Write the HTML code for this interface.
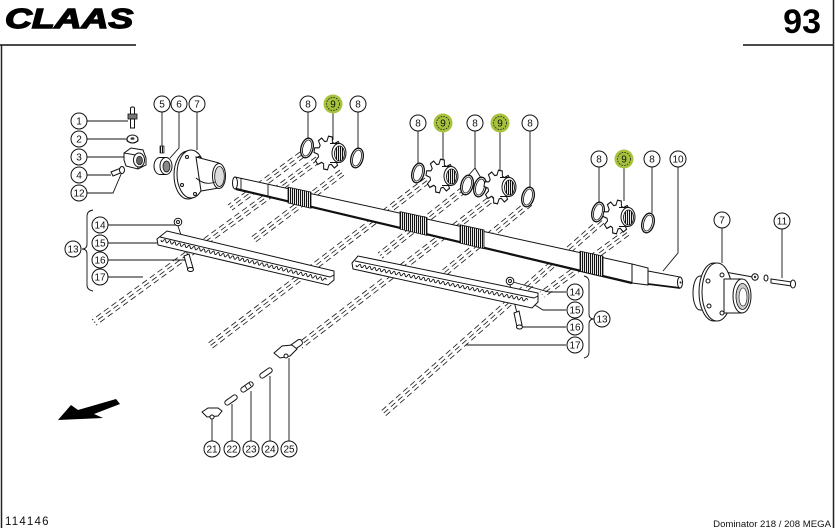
<!DOCTYPE html>
<html><head><meta charset="utf-8"><style>
html,body{margin:0;padding:0;background:#fff;width:835px;height:528px;overflow:hidden}
svg{display:block}
.d{stroke:#222;stroke-width:.85;stroke-dasharray:6 3.5;fill:none}
.o{stroke:#111;stroke-width:1;fill:#fff}
.l{stroke:#111;stroke-width:.9;fill:none}
.c{fill:#fff;stroke:#111;stroke-width:1}
.t{font-family:"Liberation Sans",sans-serif;font-size:10px;text-anchor:middle;fill:#111}
</style></head><body>
<svg width="835" height="528" viewBox="0 0 835 528" xmlns="http://www.w3.org/2000/svg">
<defs>
<pattern id="h" width="2" height="2" patternUnits="userSpaceOnUse"><rect width="2" height="2" fill="#fff"/><rect width="1.1" height="2" fill="#111"/></pattern>
<g id="spr">
 <polygon class="o" transform="scale(1,1.2) rotate(10)" points="9.61,-2.76 13.86,-1.95 13.86,1.95 9.61,2.76 8.75,4.85 11.18,8.43 8.43,11.18 4.85,8.75 2.76,9.61 1.95,13.86 -1.95,13.86 -2.76,9.61 -4.85,8.75 -8.43,11.18 -11.18,8.43 -8.75,4.85 -9.61,2.76 -13.86,1.95 -13.86,-1.95 -9.61,-2.76 -8.75,-4.85 -11.18,-8.43 -8.43,-11.18 -4.85,-8.75 -2.76,-9.61 -1.95,-13.86 1.95,-13.86 2.76,-9.61 4.85,-8.75 8.43,-11.18 11.18,-8.43 8.75,-4.85"/>
 <rect x="2" y="-9.5" width="9" height="19" fill="#fff"/>
 <path class="l" d="M2,-9.5 L11,-9.5 M2,9.5 L11,9.5"/>
 <ellipse cx="11" cy="0" rx="7" ry="9.5" class="o"/>
 <ellipse cx="11.5" cy="0.5" rx="5" ry="7.5" fill="url(#h)" stroke="#111" stroke-width=".8"/>
</g>
<g id="rg">
 <ellipse rx="6" ry="10" fill="#fff" stroke="#111" stroke-width="1.3"/>
 <ellipse rx="4.2" ry="8.2" fill="#fff" stroke="#111" stroke-width=".8"/>
</g>
</defs>

<!-- frame -->
<path d="M0,45 H136 M743,45 H833" stroke="#111" stroke-width="1.5"/>
<path d="M1.5,45 V528 M833.5,0 V528" stroke="#222" stroke-width="1.5"/>
<text transform="translate(5,28) scale(1.33,1)" font-family="Liberation Sans,sans-serif" font-weight="900" font-style="italic" font-size="28" fill="#000" stroke="#000" stroke-width="1.4">CLAAS</text>
<text x="821" y="33" text-anchor="end" font-family="Liberation Sans,sans-serif" font-weight="bold" font-size="34" fill="#000">93</text>
<text x="5" y="525" font-family="Liberation Sans,sans-serif" font-size="11.5" letter-spacing="1.2" fill="#111">114146</text>
<text x="831" y="527" text-anchor="end" font-family="Liberation Sans,sans-serif" font-size="9.6" fill="#111">Dominator 218 / 208 MEGA</text>

<!-- dashed bundles -->
<g id="dl" class="d">
<path d="M300,152 L228,205 M316,157 L92,320 M340,170 L250,238 M425,178 L207,344 M495,192 L298,343 M528,200 L440,272 M600,218 L380,412 M625,230 L540,292 M462,187 L378,253"/>
</g>
<use href="#dl" transform="translate(2,2.6)"/>
<use href="#dl" transform="translate(4,5.2)"/>

<!-- leader lines -->
<path class="l" d="M87,121 H128 M87,139 H127 M87,157 H125 M87,175 H111 M87,193 H113 L122,172
M162,112 V146 M179,112 V148 L170,158 M197,112 V150
M308,112 V140 M333,113 V140 M358,112 V148
M418,131 V164 M443,132 V166 M475,131 V168 L467,177 M475,168 L481,178 M500,132 V175 M530,131 V187
M599,167 V202 M624,168 V201 M652,167 V213 M678,167 V253 L663,271
M722,228 V263 M782,229 V278 M725,272 L753,277
M108,225 H176 M108,243 H157 M108,260 H186 M108,277 H143
M566,292 H549 L513,282 M566,310 H543 L535,305 M566,327 H522 M566,345 H466
M212,441 V419 M232,441 V404 M251,441 V391 M270,441 V376 M289,441 V358
M178,226 L188,256 M510,285 L517,313
M93,210 Q87,211 87,216 L87,244 Q87,249 82,249 Q87,249 87,254 L87,285 Q87,290 93,291
M584,276 Q589,277 589,282 L589,314 Q589,319 594,319 Q589,319 589,324 L589,352 Q589,357 584,358"/>

<!-- shaft -->
<polygon class="o" points="235,177 632,264 632,283 235,189"/>
<path d="M236,189 L632,283" stroke="#111" stroke-width="2.2" fill="none"/>
<ellipse cx="235" cy="183" rx="2.5" ry="6" class="o"/>
<path class="l" d="M241,178.3 L241,190.4 M268,184.2 L268,196.7"/>
<polygon class="o" points="632,264 648,268 648,285 632,283"/>
<polygon class="o" points="648,271 680,277 680,288 648,284"/>
<path d="M648,284 L680,288" stroke="#111" stroke-width="1.8"/>
<ellipse cx="680" cy="282.5" rx="2.5" ry="5.5" class="o"/>
<circle cx="680.5" cy="282.5" r="1" fill="#111"/>
<g fill="url(#h)" stroke="#111" stroke-width=".8">
<polygon points="288,187.1 311,192.1 311,208.3 288,202.9"/>
<polygon points="400,211.6 427,217.5 427,235.4 400,229.1"/>
<polygon points="460,224.8 484,230 484,248.8 460,243.1"/>
<polygon points="580,251.1 603,256.1 603,276.6 580,271.2"/>
</g>

<!-- strips -->
<path class="o" d="M157,239 L167,231 L334,271 L334,280 L328,285 L158,245 Z"/>
<path class="l" d="M160,237 L330,277 L334,275"/>
<path class="l" stroke-width=".8" d="M161,240 q0.51,3.2 2.43,0.585 t2.43,.585 t2.43,.585 t2.43,.585 t2.43,.585 t2.43,.585 t2.43,.585 t2.43,.585 t2.43,.585 t2.43,.585 t2.43,.585 t2.43,.585 t2.43,.585 t2.43,.585 t2.43,.585 t2.43,.585 t2.43,.585 t2.43,.585 t2.43,.585 t2.43,.585 t2.43,.585 t2.43,.585 t2.43,.585 t2.43,.585 t2.43,.585 t2.43,.585 t2.43,.585 t2.43,.585 t2.43,.585 t2.43,.585 t2.43,.585 t2.43,.585 t2.43,.585 t2.43,.585 t2.43,.585 t2.43,.585 t2.43,.585 t2.43,.585 t2.43,.585 t2.43,.585 t2.43,.585 t2.43,.585 t2.43,.585 t2.43,.585 t2.43,.585 t2.43,.585 t2.43,.585 t2.43,.585 t2.43,.585 t2.43,.585 t2.43,.585 t2.43,.585 t2.43,.585 t2.43,.585 t2.43,.585 t2.43,.585 t2.43,.585 t2.43,.585 t2.43,.585 t2.43,.585 t2.43,.585 t2.43,.585 t2.43,.585 t2.43,.585 t2.43,.585 t2.43,.585 t2.43,.585 t2.43,.585"/>
<path class="o" d="M352,263 L358,256 L538,293 L538,302 L532,308 L353,269 Z"/>
<path class="l" d="M355,261 L534,298 L538,296"/>
<path class="l" stroke-width=".8" d="M356,265 q0.62,3.19 2.45,0.503 t2.45,.503 t2.45,.503 t2.45,.503 t2.45,.503 t2.45,.503 t2.45,.503 t2.45,.503 t2.45,.503 t2.45,.503 t2.45,.503 t2.45,.503 t2.45,.503 t2.45,.503 t2.45,.503 t2.45,.503 t2.45,.503 t2.45,.503 t2.45,.503 t2.45,.503 t2.45,.503 t2.45,.503 t2.45,.503 t2.45,.503 t2.45,.503 t2.45,.503 t2.45,.503 t2.45,.503 t2.45,.503 t2.45,.503 t2.45,.503 t2.45,.503 t2.45,.503 t2.45,.503 t2.45,.503 t2.45,.503 t2.45,.503 t2.45,.503 t2.45,.503 t2.45,.503 t2.45,.503 t2.45,.503 t2.45,.503 t2.45,.503 t2.45,.503 t2.45,.503 t2.45,.503 t2.45,.503 t2.45,.503 t2.45,.503 t2.45,.503 t2.45,.503 t2.45,.503 t2.45,.503 t2.45,.503 t2.45,.503 t2.45,.503 t2.45,.503 t2.45,.503 t2.45,.503 t2.45,.503 t2.45,.503 t2.45,.503 t2.45,.503 t2.45,.503 t2.45,.503 t2.45,.503 t2.45,.503 t2.45,.503 t2.45,.503"/>

<!-- nuts & bolts on strips -->
<circle cx="178" cy="222" r="3.8" class="o"/><circle cx="178" cy="222" r="1.5" class="l"/>
<polygon class="o" points="184,256 189,254 193,268 188,270"/><ellipse cx="190.5" cy="269.5" rx="3" ry="2" class="o"/>
<circle cx="510" cy="281" r="3.8" class="o"/><circle cx="510" cy="281" r="1.5" class="l"/>
<polygon class="o" points="514,313 519,311 522,325 517,327"/><ellipse cx="519.5" cy="327" rx="3" ry="2" class="o"/>

<!-- parts 1-4,12 -->
<rect x="130.5" y="107" width="4" height="8" rx="1.5" class="o"/>
<rect x="128" y="114" width="9" height="5" fill="#777" stroke="#111" stroke-width=".8"/>
<rect x="130.5" y="119" width="4" height="9" class="o"/>
<ellipse cx="132.5" cy="139" rx="5.5" ry="4" class="o"/><path class="l" d="M127,139 v2 q5.5,4 11,0 v-2"/><ellipse cx="132.5" cy="138.5" rx="2" ry="1.3" fill="#333"/>
<polygon class="o" points="124,153 131,148 143,150 146,158 146,165 138,169 126,166 124,160"/>
<path class="l" d="M124,153 L136,155 L138,169"/>
<ellipse cx="139" cy="160" rx="5.5" ry="7" class="o"/><ellipse cx="139.5" cy="160.5" rx="3" ry="4.3" fill="#666" stroke="#111" stroke-width=".7"/>
<polygon class="o" points="111,172 121,168 123,172 113,176"/><ellipse cx="122" cy="170" rx="2.5" ry="3.5" class="o"/>
<rect x="160" y="146" width="4" height="7" fill="url(#h)" stroke="#111" stroke-width=".7"/>
<!-- part 6 -->
<ellipse cx="160" cy="166" rx="6" ry="8.5" class="o"/>
<rect x="160" y="157.5" width="6" height="17" fill="#fff"/>
<path class="l" d="M160,157.5 H166 M160,174.5 H166"/>
<ellipse cx="166" cy="166" rx="6" ry="8.5" class="o"/>
<ellipse cx="166.5" cy="166.5" rx="3.5" ry="5.5" fill="#888" stroke="#111" stroke-width=".8"/>
<!-- flange 7 left -->
<ellipse cx="188" cy="175" rx="14" ry="24" class="o"/>
<ellipse cx="191" cy="174" rx="14" ry="24" class="o"/>
<circle cx="187" cy="157" r="1.5" class="o"/><circle cx="182" cy="185" r="1.5" class="o"/><circle cx="195" cy="194" r="1.5" class="o"/><circle cx="199" cy="158" r="1.5" class="o"/>
<path class="o" d="M196,157 L219,163 L219,188 L201,191 Z"/>
<ellipse cx="219" cy="176" rx="6.5" ry="12.5" class="o"/>
<ellipse cx="219.5" cy="176.5" rx="4.8" ry="10" fill="#ddd" stroke="#111" stroke-width=".8"/>
<path class="l" d="M196,178 Q205,186 215,182"/>

<!-- sprockets and rings -->
<use href="#rg" transform="translate(307,148) rotate(15)"/>
<use href="#spr" x="328" y="153"/>
<use href="#rg" transform="translate(357,158) rotate(15)"/>
<use href="#rg" transform="translate(418,173) rotate(15)"/>
<use href="#spr" x="440" y="176"/>
<use href="#rg" transform="translate(467,185) rotate(15)"/>
<use href="#rg" transform="translate(480,187) rotate(15)"/>
<use href="#spr" x="498" y="187"/>
<use href="#rg" transform="translate(528,197) rotate(15)"/>
<use href="#rg" transform="translate(598,212) rotate(15)"/>
<use href="#spr" x="617" y="217"/>
<use href="#rg" transform="translate(648,223) rotate(15)"/>

<!-- hub 7 right -->
<ellipse cx="700" cy="293" rx="7" ry="17" class="o"/>
<rect x="700" y="276" width="14" height="34" fill="#fff"/>
<path class="l" d="M700,276 H714 M700,310 H714"/>
<ellipse cx="714" cy="292" rx="15" ry="29" class="o"/>
<ellipse cx="717" cy="292" rx="15" ry="29" class="o"/>
<circle cx="722" cy="275" r="2" class="o"/><circle cx="708" cy="281" r="2" class="o"/><circle cx="709" cy="306" r="2" class="o"/><circle cx="722" cy="313" r="2" class="o"/>
<path class="o" d="M724,279 L742,279 L742,313 L724,313 Z"/>
<ellipse cx="742" cy="296" rx="9" ry="17" class="o"/>
<ellipse cx="742.5" cy="296.5" rx="6.5" ry="13" fill="#ccc" stroke="#111" stroke-width=".8"/>
<ellipse cx="743" cy="297" rx="4" ry="9" fill="#fff" stroke="#111" stroke-width=".6"/>
<circle cx="755" cy="277" r="3.2" class="o"/><circle cx="755" cy="277" r="1.2" fill="#333"/>
<ellipse cx="766" cy="278" rx="2" ry="3" class="o"/>
<polygon class="o" points="771,279 792,282 792,286 771,283"/>
<ellipse cx="793" cy="284" rx="2.5" ry="4" class="o"/>

<!-- clips 21-25 -->
<polygon class="o" points="202,412 208,408 218,408 222,411 218,416 207,417"/>
<circle cx="212" cy="417" r="2" class="o"/>
<rect x="-7" y="-2.5" width="14" height="5" rx="2.5" class="o" transform="translate(231,400) rotate(-35)"/>
<rect x="-7" y="-2.5" width="14" height="5" rx="2.5" class="o" transform="translate(247,387) rotate(-35)"/>
<path class="l" d="M245,386 l2,3 M249,383 l2,3"/>
<rect x="-7" y="-2.5" width="14" height="5" rx="2.5" class="o" transform="translate(266,373) rotate(-35)"/>
<rect x="-7" y="-3" width="14" height="6" rx="2.5" class="o" transform="translate(296,345) rotate(-35)"/>
<polygon class="o" points="274,353 282,346 292,345 297,349 290,356 280,358"/>
<circle cx="286" cy="356" r="2" class="o"/>

<!-- arrow -->
<polygon fill="#000" points="58,420 71,405 78,410 116,399 120,404 94,414 103,418"/>

<!-- callouts -->
<g class="c">
<circle cx="79" cy="121" r="8"/><circle cx="79" cy="139" r="8"/><circle cx="79" cy="157" r="8"/><circle cx="79" cy="175" r="8"/><circle cx="79" cy="193" r="8"/>
<circle cx="162" cy="104" r="8"/><circle cx="179" cy="104" r="8"/><circle cx="197" cy="104" r="8"/>
<circle cx="308" cy="104" r="8"/><circle cx="358" cy="104" r="8"/>
<circle cx="418" cy="123" r="8"/><circle cx="475" cy="123" r="8"/><circle cx="530" cy="123" r="8"/>
<circle cx="599" cy="159" r="8"/><circle cx="652" cy="159" r="8"/><circle cx="678" cy="159" r="8"/>
<circle cx="722" cy="220" r="8"/><circle cx="782" cy="221" r="8"/>
<circle cx="100" cy="225" r="8"/><circle cx="100" cy="243" r="8"/><circle cx="100" cy="260" r="8"/><circle cx="100" cy="277" r="8"/><circle cx="73" cy="249" r="8"/>
<circle cx="575" cy="292" r="8"/><circle cx="575" cy="310" r="8"/><circle cx="575" cy="327" r="8"/><circle cx="575" cy="345" r="8"/><circle cx="602" cy="319" r="8"/>
<circle cx="212" cy="449" r="8"/><circle cx="232" cy="449" r="8"/><circle cx="251" cy="449" r="8"/><circle cx="270" cy="449" r="8"/><circle cx="289" cy="449" r="8"/>
</g>
<g fill="#a7c23b">
<circle cx="333" cy="104" r="9.5"/><circle cx="443" cy="123" r="9.5"/><circle cx="500" cy="123" r="9.5"/><circle cx="624" cy="159" r="9.5"/>
</g>
<g fill="none" stroke="#222" stroke-width=".8" stroke-dasharray="1.6 1.2">
<circle cx="333" cy="104" r="6.5"/><circle cx="443" cy="123" r="6.5"/><circle cx="500" cy="123" r="6.5"/><circle cx="624" cy="159" r="6.5"/>
</g>
<g class="t">
<text x="79" y="124.6">1</text><text x="79" y="142.6">2</text><text x="79" y="160.6">3</text><text x="79" y="178.6">4</text><text x="79" y="196.6">12</text>
<text x="162" y="107.6">5</text><text x="179" y="107.6">6</text><text x="197" y="107.6">7</text>
<text x="308" y="107.6">8</text><text x="333" y="107.6">9</text><text x="358" y="107.6">8</text>
<text x="418" y="126.6">8</text><text x="443" y="126.6">9</text><text x="475" y="126.6">8</text><text x="500" y="126.6">9</text><text x="530" y="126.6">8</text>
<text x="599" y="162.6">8</text><text x="624" y="162.6">9</text><text x="652" y="162.6">8</text><text x="678" y="162.6">10</text>
<text x="722" y="223.6">7</text><text x="782" y="224.6">11</text>
<text x="100" y="228.6">14</text><text x="100" y="246.6">15</text><text x="100" y="263.6">16</text><text x="100" y="280.6">17</text><text x="73" y="252.6">13</text>
<text x="575" y="295.6">14</text><text x="575" y="313.6">15</text><text x="575" y="330.6">16</text><text x="575" y="348.6">17</text><text x="602" y="322.6">13</text>
<text x="212" y="452.6">21</text><text x="232" y="452.6">22</text><text x="251" y="452.6">23</text><text x="270" y="452.6">24</text><text x="289" y="452.6">25</text>
</g>
</svg>
</body></html>
